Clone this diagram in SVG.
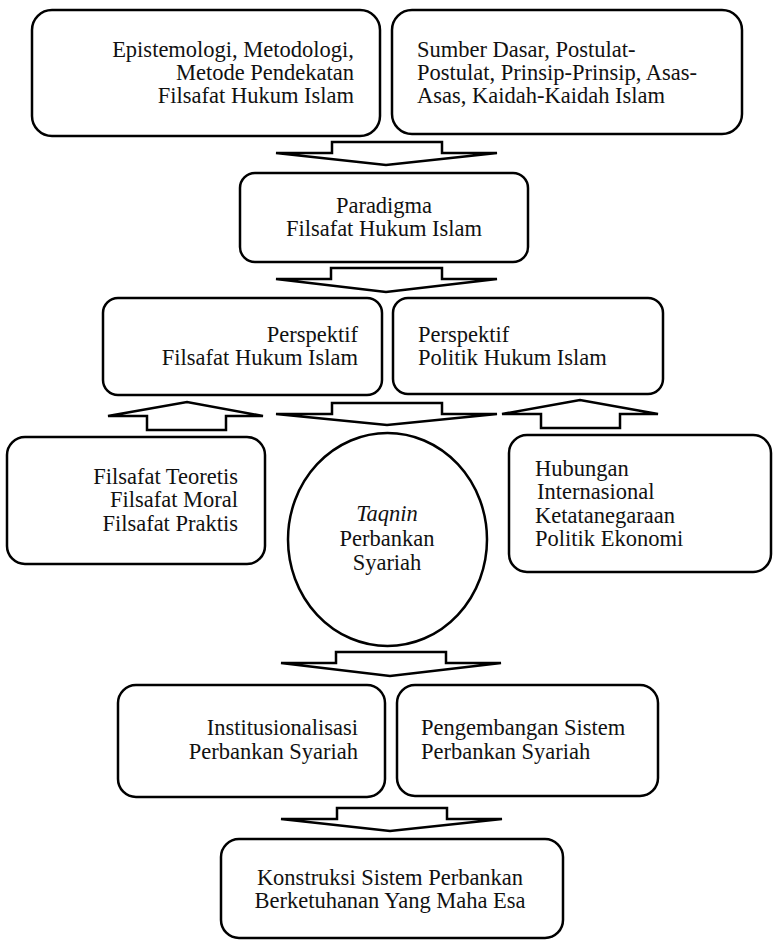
<svg xmlns="http://www.w3.org/2000/svg" width="774" height="941" viewBox="0 0 774 941">
  <style>
    .box { fill: #ffffff; stroke: #000000; stroke-width: 2.5; }
    .arrow { fill: #ffffff; stroke: #000000; stroke-width: 2.5; stroke-linejoin: miter; }
    text { font-family: "Liberation Serif", "Times New Roman", serif; font-size: 22.5px; fill: #111111; }
    .end { text-anchor: end; }
    .mid { text-anchor: middle; }
  </style>
  <rect width="774" height="941" fill="#ffffff"/>

  <!-- block arrows -->
  <g id="connectors">
    <polygon class="arrow" points="332,142 442,142 442,153 497,153 386,165 276,153 332,153"/>
    <polygon class="arrow" points="331,268 442,268 442,279 497,279 386,292 276,279 331,279"/>
    <polygon class="arrow" points="147,430 226,430 226,416 263,416 187,402 108,416 147,416"/>
    <polygon class="arrow" points="332,403 442,403 442,414 497,414 387,425 276,414 332,414"/>
    <polygon class="arrow" points="541,428 620,428 620,414 658,414 580,400 502,414 541,414"/>
    <polygon class="arrow" points="336,652 446,652 446,663 501,663 390,676 281,663 336,663"/>
    <polygon class="arrow" points="337,808 447,808 447,819 502,819 390,831 281,819 337,819"/>
  </g>

  <g id="epistemologi">
    <rect class="box" x="32" y="10" width="348" height="126" rx="20"/>
    <text class="end" x="354" y="57">Epistemologi, Metodologi,</text>
    <text class="end" x="354" y="80">Metode Pendekatan</text>
    <text class="end" x="354" y="103">Filsafat Hukum Islam</text>
  </g>

  <g id="sumber-dasar">
    <rect class="box" x="392" y="10" width="350" height="124" rx="20"/>
    <text x="417" y="57">Sumber Dasar, Postulat-</text>
    <text x="417" y="80">Postulat, Prinsip-Prinsip, Asas-</text>
    <text x="417" y="103">Asas, Kaidah-Kaidah Islam</text>
  </g>

  <g id="paradigma">
    <rect class="box" x="240" y="173" width="288" height="89" rx="15"/>
    <text class="mid" x="384" y="213">Paradigma</text>
    <text class="mid" x="384" y="236">Filsafat Hukum Islam</text>
  </g>

  <g id="perspektif-filsafat">
    <rect class="box" x="103" y="298" width="279" height="97" rx="15"/>
    <text class="end" x="358" y="342">Perspektif</text>
    <text class="end" x="358" y="365">Filsafat Hukum Islam</text>
  </g>

  <g id="perspektif-politik">
    <rect class="box" x="393" y="298" width="270" height="96" rx="15"/>
    <text x="418" y="342">Perspektif</text>
    <text x="418" y="365">Politik Hukum Islam</text>
  </g>

  <g id="filsafat-cabang">
    <rect class="box" x="7" y="437" width="258" height="127" rx="18"/>
    <text class="end" x="238" y="484">Filsafat Teoretis</text>
    <text class="end" x="238" y="507">Filsafat Moral</text>
    <text class="end" x="238" y="531">Filsafat Praktis</text>
  </g>

  <g id="taqnin">
    <ellipse class="box" cx="387.5" cy="539.5" rx="99.5" ry="106.5"/>
    <text class="mid" x="387" y="521" font-style="italic">Taqnin</text>
    <text class="mid" x="387" y="546">Perbankan</text>
    <text class="mid" x="387" y="570">Syariah</text>
  </g>

  <g id="hubungan">
    <rect class="box" x="509" y="435" width="262" height="137" rx="18"/>
    <text x="535" y="476">Hubungan</text>
    <text x="537" y="499">Internasional</text>
    <text x="535" y="523">Ketatanegaraan</text>
    <text x="535" y="546">Politik Ekonomi</text>
  </g>

  <g id="institusionalisasi">
    <rect class="box" x="118" y="685" width="267" height="112" rx="18"/>
    <text class="end" x="358" y="735">Institusionalisasi</text>
    <text class="end" x="358" y="759">Perbankan Syariah</text>
  </g>

  <g id="pengembangan">
    <rect class="box" x="397" y="685" width="261" height="111" rx="18"/>
    <text x="421" y="735">Pengembangan Sistem</text>
    <text x="421" y="759">Perbankan Syariah</text>
  </g>

  <g id="konstruksi">
    <rect class="box" x="221" y="839" width="342" height="99" rx="18"/>
    <text class="mid" x="390" y="885">Konstruksi Sistem Perbankan</text>
    <text class="mid" x="390" y="908">Berketuhanan Yang Maha Esa</text>
  </g>
</svg>
